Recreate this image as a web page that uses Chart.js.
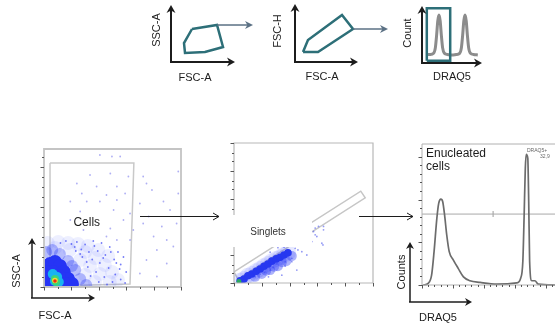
<!DOCTYPE html>
<html>
<head>
<meta charset="utf-8">
<script src="https://cdn.jsdelivr.net/npm/chart.js@4.4.1/dist/chart.umd.min.js"></script>
<style>
  html, body { margin: 0; padding: 0; background: #fff; }
  #wrap { position: relative; width: 555px; height: 327px; overflow: hidden; }
  #wrap canvas { position: absolute; left: 0; top: 0; }
</style>
</head>
<body>
<div id="wrap">
  <canvas id="topScatter" width="555" height="327"></canvas>
  <canvas id="topSinglet" width="555" height="327"></canvas>
  <canvas id="topHist" width="555" height="327"></canvas>
  <canvas id="cellsPlot" width="555" height="327"></canvas>
  <canvas id="singletPlot" width="555" height="327"></canvas>
  <canvas id="draqPlot" width="555" height="327"></canvas>
</div>
<script>
/* ---------- top row: schematic gates (arbitrary 0-100 units) ---------- */
const scatterGateX = [32.8, 71.9, 81.3, 53.1, 21.9, 20.3];
const scatterGateY = [57.9, 64.9, 26.3, 17.5, 15.8, 33.3];

const singletGateX = [12.7, 20.6, 74.6, 92.1, 36.5];
const singletGateY = [17.2, 37.9, 81.0, 56.9, 17.2];

const miniHistX = [8, 14, 19.3, 22.3, 24.3, 26.3, 28.3, 30.3, 32.3, 34.3, 37.3, 42, 50, 57, 62.7, 65.7, 67.7, 69.7, 71.7, 73.7, 75.7, 77.7, 80.7, 86, 93];
const miniHistY = [15, 15, 17, 27, 48, 74, 84, 74, 48, 27, 17, 15, 14, 15, 17, 27, 48, 74, 84, 74, 48, 27, 17, 15, 14];
const miniGateX = [8, 47, 47, 8];
const miniGateY = [4, 4, 96, 96];

/* ---------- bottom left: FSC-A (x, 0-250K) vs SSC-A (y, 0-276K) ---------- */
const cellsGateX = [11, 164, 157, 11];
const cellsGateY = [248, 248, 6, 2];
// density levels, from sparse haze to the red peak
const cellsHazeX = [7, 26, 44, 62, 80, 99, 117, 20, 47, 75, 93, 111, 124, 66, 84, 102, 120, 135, 75, 93];
const cellsHazeY = [88, 90, 88, 86, 82, 74, 62, 78, 74, 70, 58, 44, 30, 54, 42, 26, 10, 14, 24, 10];
const cellsMidX = [4, 15, 29, 44, 57, 66, 77, 51];
const cellsMidY = [70, 74, 66, 52, 34, 16, 4, 42];
const cellsBlueX = [11, 20, 29, 36, 44, 51, 5, 16, 27, 11, 26, 38];
const cellsBlueY = [46, 50, 42, 30, 16, 6, 30, 30, 22, 10, 6, 6];
const cellsCyanX = [16, 24, 20, 27];
const cellsCyanY = [26, 20, 12, 10];
const cellsGreenX = [20, 22];
const cellsGreenY = [16, 10];
const cellsYellowX = [20];
const cellsYellowY = [13];
const cellsRedX = [20];
const cellsRedY = [12];
const cellsSpeckX = [60, 75, 90, 105, 120, 135, 68, 82, 98, 112, 128, 140, 88, 102, 118, 130, 110, 95, 125, 140, 80, 70, 50, 40, 30, 150, 100, 115, 145, 85, 56, 66, 108, 122, 138, 92, 78, 58, 132, 148];
const cellsSpeckY = [90, 85, 92, 88, 80, 70, 75, 70, 72, 64, 55, 45, 55, 48, 38, 25, 20, 30, 10, 15, 40, 60, 86, 92, 88, 30, 10, 5, 60, 22, 80, 66, 58, 70, 36, 82, 50, 72, 48, 8];
const cellsDotsX = [102, 124, 139, 84, 121, 154, 181, 60, 96, 133, 69, 114, 148, 187, 197, 218, 48, 78, 102, 133, 175, 230, 66, 127, 157, 191, 48, 145, 181, 215, 242, 72, 121, 163, 200, 224, 245, 245, 236, 206, 187, 224, 175, 206, 157, 133, 114];
const cellsDotsY = [264, 261, 261, 224, 227, 221, 221, 207, 201, 201, 187, 184, 187, 207, 194, 171, 171, 171, 171, 174, 167, 154, 151, 154, 147, 141, 134, 134, 127, 121, 127, 114, 117, 114, 101, 94, 231, 187, 81, 74, 54, 47, 27, 21, 94, 94, 101];

/* ---------- bottom middle: FSC-A (x) vs FSC-H (y), 0-250K ---------- */
const singletsGateX = [0, 228, 236, 7];
const singletsGateY = [20, 164, 152, 7];
const singletsBandX = [11, 18, 25, 32, 40, 47, 54, 61, 68, 76, 83, 90, 97];
const singletsBandY = [4, 7, 13, 16, 21, 25, 30, 34, 39, 43, 46, 50, 54];
const singletsSpreadX = [38, 50, 65, 79, 94, 104, 58, 72, 86];
const singletsSpreadY = [11, 16, 23, 30, 39, 48, 22, 29, 37];
const singletsCoreX = [9];
const singletsCoreY = [3];
const singletsDotsX = [113, 122, 143, 152, 161, 140, 128, 158, 104, 110, 92, 86, 62, 131, 146, 146, 161, 149, 160, 47, 65, 92, 104, 115, 29, 79, 65, 101, 90, 76, 38, 55, 70, 84, 98];
const singletsDotsY = [23, 56, 92, 101, 95, 74, 68, 71, 44, 62, 38, 14, 11, 50, 86, 98, 101, 83, 68, 16, 23, 30, 38, 59, 9, 63, 55, 66, 64, 34, 11, 19, 28, 40, 48];

/* ---------- bottom right: DRAQ5 histogram (x channel 0-430, counts 0-330) ---------- */
const draqX = [4, 20, 31, 39, 48, 54, 61, 67, 73, 80, 88, 101, 117, 134, 155, 188, 242, 306, 319, 326, 330, 334, 337, 342, 345, 348, 355, 365, 376, 430];
const draqCounts = [0, 4, 23, 78, 156, 191, 201, 195, 164, 117, 78, 59, 39, 19, 10, 6, 2, 5, 16, 55, 156, 273, 306, 297, 195, 55, 10, 10, 2, 0];
const enuGateX = [0, 430];
const enuGateY = [166, 166];
const enuTickX = [230, 230];
const enuTickY = [159, 173];

/* tick values */
const cellsTicksX = { major: [0, 50, 100, 150, 200, 250], minor: [25, 75, 125, 175, 225] };
const cellsTicksY = { major: [0, 80, 160, 240], minor: [20, 40, 60, 100, 120, 140, 180, 200, 220, 260] };
const singletsTicksX = { major: [0, 50, 100, 150, 200, 250], minor: [25, 75, 125, 175, 225] };
const singletsTicksY = { major: [0, 50, 100, 150, 200, 250], minor: [17, 33, 67, 83, 117, 133, 167, 183, 217, 233] };
const draqTicksX = { major: [0, 100, 200, 300, 400], minor: [20, 40, 60, 80, 120, 140, 160, 180, 220, 240, 260, 280, 320, 340, 360, 380, 420] };
const draqTicksY = { major: [0, 100, 200, 300], minor: [20, 40, 60, 80, 120, 140, 160, 180, 220, 240, 260, 280, 320] };

/* ---------- helpers ---------- */
const W = 555, H = 327;
const FONT = "'Liberation Sans', Arial, sans-serif";
const TEAL = "#2d6f78";
const LINK = "#5b7184";
const INK = "#1c1c1c";

function pts(xs, ys) {
  return xs.map((x, i) => ({ x, y: ys[i] }));
}
function closed(xs, ys) {
  const p = pts(xs, ys);
  p.push(p[0]);
  return p;
}
function outline(xs, ys, color, width, order) {
  return {
    data: closed(xs, ys), showLine: true, borderColor: color, borderWidth: width,
    pointRadius: 0, tension: 0, fill: false, order, clip: false, borderJoinStyle: "miter",
  };
}
function curve(xs, ys, color, width, order) {
  return {
    data: pts(xs, ys), showLine: true, borderColor: color, borderWidth: width,
    pointRadius: 0, cubicInterpolationMode: "monotone", fill: false, order, clip: 3,
  };
}
function dots(xs, ys, color, r, order) {
  return {
    data: pts(xs, ys), showLine: false, pointRadius: r, pointBackgroundColor: color,
    pointBorderWidth: 0, pointBorderColor: "rgba(0,0,0,0)", order, clip: 0,
  };
}

function arrow(ctx, x1, y1, x2, y2, o) {
  const ang = Math.atan2(y2 - y1, x2 - x1);
  const c = Math.cos(ang), s = Math.sin(ang);
  const len = o.head || 7, hw = o.hw || 3.5;
  ctx.save();
  ctx.strokeStyle = o.color || INK;
  ctx.fillStyle = o.color || INK;
  ctx.lineWidth = o.width || 1;
  ctx.lineCap = "butt";
  const stop = o.open ? 0 : len * 0.6;
  ctx.beginPath();
  ctx.moveTo(x1, y1);
  ctx.lineTo(x2 - c * stop, y2 - s * stop);
  ctx.stroke();
  const lx = x2 - len * c + hw * s, ly = y2 - len * s - hw * c;
  const rx = x2 - len * c - hw * s, ry = y2 - len * s + hw * c;
  ctx.beginPath();
  if (o.open) {
    ctx.moveTo(lx, ly);
    ctx.lineTo(x2, y2);
    ctx.lineTo(rx, ry);
    ctx.stroke();
  } else {
    ctx.moveTo(x2, y2);
    ctx.lineTo(lx, ly);
    ctx.lineTo(x2 - len * 0.7 * c, y2 - len * 0.7 * s);
    ctx.lineTo(rx, ry);
    ctx.closePath();
    ctx.fill();
  }
  ctx.restore();
}

function label(ctx, text, x, y, o = {}) {
  ctx.save();
  ctx.font = `${o.size || 11}px ${FONT}`;
  ctx.fillStyle = o.color || INK;
  ctx.textAlign = o.align || "center";
  ctx.textBaseline = "middle";
  ctx.translate(x, y);
  if (o.rot) ctx.rotate(-Math.PI / 2);
  ctx.fillText(text, 0, 0);
  ctx.restore();
}

function axesL(ctx, a, w) {
  arrow(ctx, a.left, a.bottom + w / 2, a.left, a.top, { width: w, head: 8, hw: 4.5 });
  arrow(ctx, a.left - w / 2, a.bottom, a.right, a.bottom, { width: w, head: 8, hw: 4.5 });
}

function frame(chart, o) {
  const { ctx, chartArea: a, scales } = chart;
  ctx.save();
  ctx.strokeStyle = o.color;
  ctx.lineWidth = o.width;
  ctx.beginPath();
  ctx.moveTo(a.left, a.bottom);
  ctx.lineTo(a.left, a.top);
  ctx.lineTo(a.right, a.top);
  if (o.right !== false) ctx.lineTo(a.right, a.bottom);
  ctx.moveTo(a.right, a.bottom);
  ctx.lineTo(a.left, a.bottom);
  ctx.stroke();
  ctx.strokeStyle = o.tick;
  ctx.lineWidth = 1;
  ctx.beginPath();
  const yTick = (v, len) => {
    const p = Math.round(scales.y.getPixelForValue(v)) + 0.5;
    ctx.moveTo(a.left, p);
    ctx.lineTo(a.left - len, p);
  };
  const xTick = (v, len) => {
    const p = Math.round(scales.x.getPixelForValue(v)) + 0.5;
    ctx.moveTo(p, a.bottom);
    ctx.lineTo(p, a.bottom + len);
  };
  o.ty.major.forEach((v) => yTick(v, 3.5));
  o.ty.minor.forEach((v) => yTick(v, 2));
  o.tx.major.forEach((v) => xTick(v, 3.5));
  o.tx.minor.forEach((v) => xTick(v, 2));
  ctx.stroke();
  ctx.restore();
}

function makeChart(id, area, xMax, yMax, datasets, deco) {
  return new Chart(document.getElementById(id), {
    type: "scatter",
    data: { datasets },
    options: {
      responsive: false,
      animation: false,
      events: [],
      layout: { padding: { left: area[0], top: area[1], right: W - area[2], bottom: H - area[3] } },
      scales: {
        x: { type: "linear", display: false, min: 0, max: xMax },
        y: { type: "linear", display: false, min: 0, max: yMax },
      },
      plugins: { legend: { display: false }, tooltip: { enabled: false } },
    },
    plugins: [{ id: "deco", afterDatasetsDraw: (chart) => deco(chart, chart.ctx, chart.chartArea) }],
  });
}

/* ---------- top row ---------- */
makeChart("topScatter", [171, 5, 235, 62], 100, 100,
  [outline(scatterGateX, scatterGateY, TEAL, 2.5, 0)],
  (chart, ctx, a) => {
    axesL(ctx, a, 2);
    const { x, y } = chart.scales;
    const py = y.getPixelForValue(scatterGateY[1]);
    arrow(ctx, x.getPixelForValue(scatterGateX[1]), py, 253, py, { color: LINK, width: 1.5, head: 8, hw: 4 });
    label(ctx, "SSC-A", 157, 30, { rot: true });
    label(ctx, "FSC-A", 195, 78);
  });

makeChart("topSinglet", [295, 4, 358, 62], 100, 100,
  [outline(singletGateX, singletGateY, TEAL, 2.5, 0)],
  (chart, ctx, a) => {
    axesL(ctx, a, 2);
    const { x, y } = chart.scales;
    const py = y.getPixelForValue(singletGateY[3]);
    arrow(ctx, x.getPixelForValue(singletGateX[3]), py, 388, py, { color: LINK, width: 1.5, head: 8, hw: 4 });
    label(ctx, "FSC-H", 278, 31, { rot: true });
    label(ctx, "FSC-A", 322, 77);
  });

makeChart("topHist", [422, 6, 482, 63], 100, 100,
  [outline(miniGateX, miniGateY, TEAL, 2.5, 0), curve(miniHistX, miniHistY, "#8c8c8c", 3, 1)],
  (chart, ctx, a) => {
    axesL(ctx, a, 2);
    label(ctx, "Count", 408, 33, { rot: true });
    label(ctx, "DRAQ5", 452, 77);
  });

/* ---------- bottom row ---------- */
makeChart("cellsPlot", [44, 149, 181, 287], 250, 276,
  [
    dots(cellsRedX, cellsRedY, "#ee2a18", 1.8, 1),
    dots(cellsYellowX, cellsYellowY, "#f0e030", 2.8, 2),
    dots(cellsGreenX, cellsGreenY, "#3cd47a", 4, 3),
    dots(cellsCyanX, cellsCyanY, "#18b4f0", 5, 4),
    dots(cellsBlueX, cellsBlueY, "rgb(38,52,245)", 7, 5),
    dots(cellsMidX, cellsMidY, "rgba(50,65,245,0.35)", 6, 6),
    dots(cellsSpeckX, cellsSpeckY, "rgba(60,70,245,0.7)", 0.9, 7),
    dots(cellsHazeX, cellsHazeY, "rgba(80,95,255,0.1)", 7, 8),
    dots(cellsDotsX, cellsDotsY, "rgba(110,110,235,0.55)", 0.9, 9),
    outline(cellsGateX, cellsGateY, "#c9c9c9", 1.5, 10),
  ],
  (chart, ctx, a) => {
    frame(chart, { color: "#c4c4c4", width: 1.8, tick: "#555", tx: cellsTicksX, ty: cellsTicksY });
    const { x, y } = chart.scales;
    label(ctx, "Cells", x.getPixelForValue(78), y.getPixelForValue(128), { size: 12 });
    arrow(ctx, 32, 298, 32, 238, { width: 1.5, head: 7, hw: 4 });
    arrow(ctx, 31, 298, 95, 298, { width: 1.5, head: 7, hw: 4 });
    label(ctx, "SSC-A", 17, 271, { rot: true });
    label(ctx, "FSC-A", 55, 316);
    arrow(ctx, 140, 216.5, 219, 216.5, { width: 1, head: 6, hw: 3.5, open: true });
  });

makeChart("singletPlot", [234, 143, 373, 283], 250, 250,
  [
    dots(singletsCoreX, singletsCoreY, "#2aa860", 2.4, 1),
    dots(singletsBandX, singletsBandY, "rgb(38,55,240)", 3.8, 2),
    dots(singletsSpreadX, singletsSpreadY, "rgba(50,65,245,0.4)", 5, 3),
    dots(singletsBandX, singletsBandY, "rgba(80,95,255,0.14)", 8, 4),
    dots(singletsDotsX, singletsDotsY, "rgba(90,100,240,0.65)", 0.9, 5),
    outline(singletsGateX, singletsGateY, "#c6c6c6", 1.5, 6),
  ],
  (chart, ctx, a) => {
    frame(chart, { color: "#b8b8b8", width: 1.2, tick: "#555", tx: singletsTicksX, ty: singletsTicksY });
    ctx.save();
    ctx.fillStyle = "#fff";
    ctx.fillRect(225, 215, 87, 32);
    ctx.restore();
    label(ctx, "Singlets", 268, 232, { size: 10, color: "#333" });
    arrow(ctx, 359, 216.5, 413, 216.5, { width: 1, head: 6, hw: 3.5, open: true });
  });

makeChart("draqPlot", [422, 144, 555, 285], 430, 330,
  [
    curve(draqX, draqCounts, "#6c6c6c", 1.7, 0),
    curve(enuGateX, enuGateY, "#a8a8a8", 1, 1),
    curve(enuTickX, enuTickY, "#bdbdbd", 1.5, 2),
  ],
  (chart, ctx, a) => {
    frame(chart, { color: "#b0b0b0", width: 1, tick: "#555", right: false, tx: draqTicksX, ty: draqTicksY });
    label(ctx, "Enucleated", 426, 154, { size: 12, align: "left" });
    label(ctx, "cells", 426, 167, { size: 12, align: "left" });
    label(ctx, "DRAQ5+", 527, 151, { size: 5, align: "left", color: "#666" });
    label(ctx, "32,9", 540, 157, { size: 5, align: "left", color: "#666" });
    arrow(ctx, 410, 302, 410, 242, { width: 1.5, head: 7, hw: 4 });
    arrow(ctx, 409, 302, 472, 302, { width: 1.5, head: 7, hw: 4 });
    label(ctx, "Counts", 402, 272, { rot: true });
    label(ctx, "DRAQ5", 438, 318);
  });
</script>
</body>
</html>
